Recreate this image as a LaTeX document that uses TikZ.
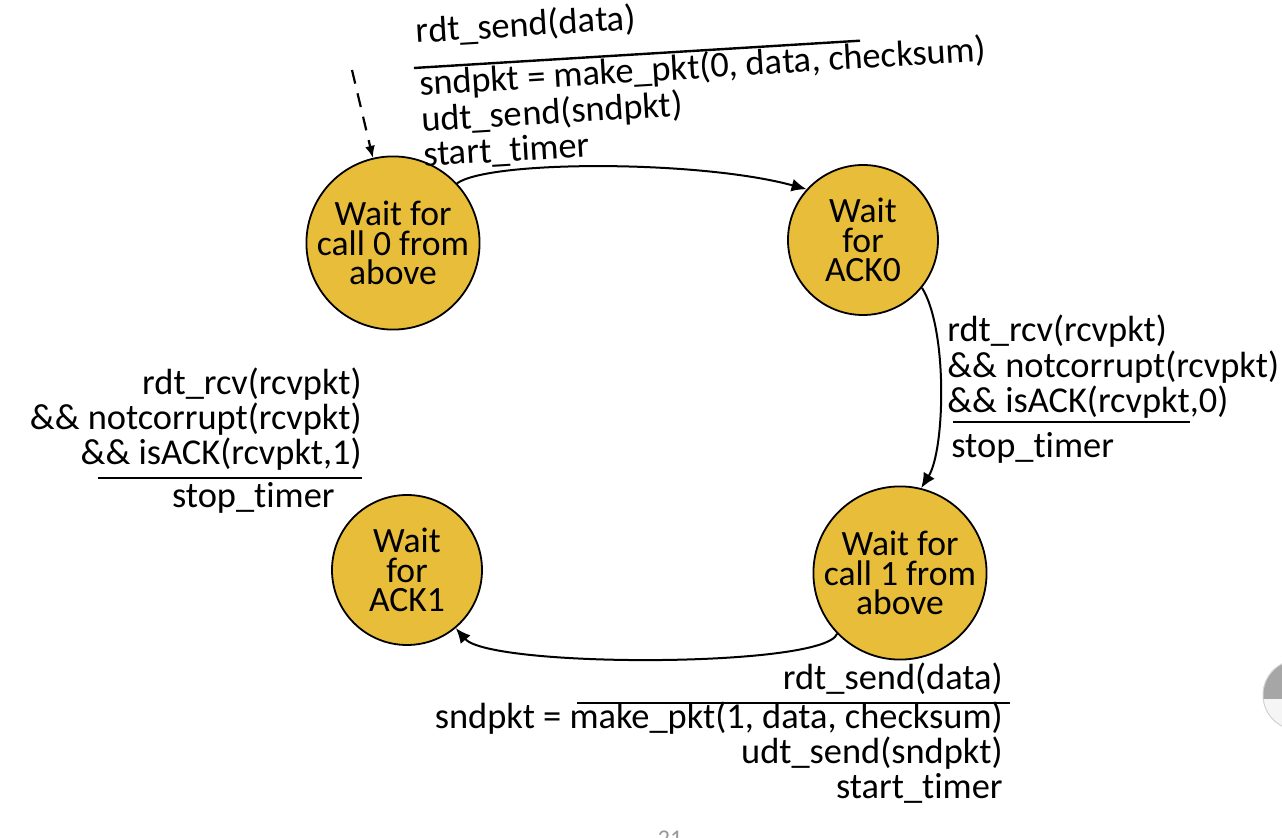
\documentclass[tikz,border=0pt]{standalone}
\usepackage{fontspec}
\setmainfont[Ligatures=NoCommon]{Carlito}
\usetikzlibrary{arrows.meta}
\definecolor{stfill}{RGB}{231,189,57}
\begin{document}
\begin{tikzpicture}[x=0.5pt,y=-0.5pt,
  state/.style={circle,draw=black,line width=0.9pt,fill=stfill,inner sep=0pt,align=center,
    font=\fontsize{17.8}{14.75}\selectfont},
  lbl/.style={inner sep=0pt,font=\fontsize{18.2}{18.2}\selectfont},
  tr/.style={-{Latex[length=7.5pt,width=6.5pt]},line width=1pt},
  rule/.style={line width=1.2pt},
]
\useasboundingbox (0,0) rectangle (1282,838);
\fill[white] (0,0) rectangle (1282,838);

% states
\node[state,minimum size=78pt] (c0) at (393,243) {Wait for\\call 0 from\\above};
\node[state,minimum size=75pt] (a0) at (863,240) {Wait\\for\\ACK0};
\node[state,minimum size=75pt] (a1) at (407,570) {Wait\\for\\ACK1};
\node[state,minimum size=78pt] (c1) at (900,573) {Wait for\\call 1 from\\above};

% transitions
\coordinate (init) at (352,70);
\draw[-{Latex[length=6pt,width=5pt]},line width=1.1pt,dash pattern=on 7pt off 5pt] (init) -- (c0);
\draw[tr] (c0.43) .. controls (490,160) and (700,160) .. (a0.138);
\draw[tr] (a0.-39) .. controls (948,330) and (945,450) .. (c1.76);
\draw[tr] (c1.-136) .. controls (825,668) and (490,668) .. (a1.-50);

% top label (slightly rotated)
\begin{scope}[rotate around={3.5:(414,68)},transform shape]
  \node[lbl,anchor=base west] (t1) at (418,43) {rdt\_send(data)};
  \coordinate (tl) at (414,68);
  \coordinate (tr) at (861,68);
  \draw[rule] (tl) -- (tr);
  \node[lbl,anchor=base west] (t2) at (418,96) {sndpkt = make\_pkt(0, data, checksum)};
  \node[lbl,anchor=base west] (t3) at (418,132) {udt\_send(sndpkt)};
  \node[lbl,anchor=base west] (t4) at (418,167) {start\_timer};
\end{scope}

% right label
\node[lbl,anchor=base west] (r1) at (947,342) {rdt\_rcv(rcvpkt)};
\node[lbl,anchor=base west] (r2) at (947,378) {\&\& notcorrupt(rcvpkt)};
\node[lbl,anchor=base west] (r3) at (947,413) {\&\& isACK(rcvpkt,0)};
\coordinate (rl) at (953,422);
\coordinate (rr) at (1190,422);
\draw[rule] (rl) -- (rr);
\node[lbl,anchor=base west] (r4) at (951,458) {stop\_timer};

% left label
\node[lbl,anchor=base east] (l1) at (362,395) {rdt\_rcv(rcvpkt)};
\node[lbl,anchor=base east] (l2) at (362,430) {\&\& notcorrupt(rcvpkt)};
\node[lbl,anchor=base east] (l3) at (362,465) {\&\& isACK(rcvpkt,1)};
\coordinate (ll) at (98,478);
\coordinate (lr) at (362,478);
\draw[rule] (ll) -- (lr);
\node[lbl,anchor=base east] (l4) at (335,508) {stop\_timer};

% bottom label
\node[lbl,anchor=base east] (b1) at (1003,690) {rdt\_send(data)};
\coordinate (bl) at (577,703);
\coordinate (br) at (1010,703);
\draw[rule] (bl) -- (br);
\node[lbl,anchor=base east] (b2) at (1003,729) {sndpkt = make\_pkt(1, data, checksum)};
\node[lbl,anchor=base east] (b3) at (1003,764) {udt\_send(sndpkt)};
\node[lbl,anchor=base east] (b4) at (1003,799) {start\_timer};

% page artefacts at the edges
\begin{scope}
  \clip (1298,695) circle (17.5pt);
  \fill[gray!70] (1250,640) rectangle (1340,699);
  \fill[gray!8] (1250,699) rectangle (1340,740);
\end{scope}
\draw[gray!35,line width=0.5pt] (1298,695) circle (17.5pt);
\node[inner sep=0pt,anchor=base,text=gray!80,font=\fontsize{12}{12}\selectfont] (pg) at (670,847) {21};
\end{tikzpicture}
\end{document}
